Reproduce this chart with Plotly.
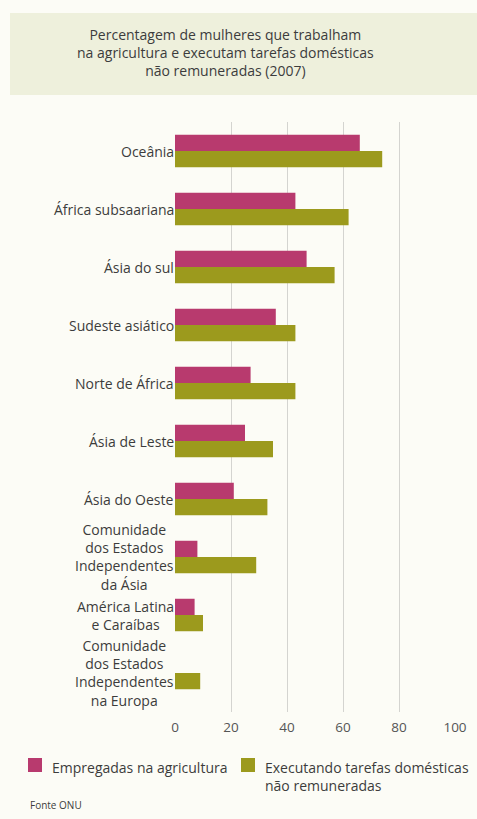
import plotly.graph_objects as go

categories = [
    "Oceânia",
    "África subsaariana",
    "Ásia do sul",
    "Sudeste asiático",
    "Norte de África",
    "Ásia de Leste",
    "Ásia do Oeste",
    "Comunidade<br>dos Estados<br>Independentes<br>da Ásia",
    "América Latina<br>e Caraíbas",
    "Comunidade<br>dos Estados<br>Independentes<br>na Europa",
]
agricultura = [66, 43, 47, 36, 27, 25, 21, 8, 7, 0]
domesticas = [74, 62, 57, 43, 43, 35, 33, 29, 10, 9]
x_ticks = [0, 20, 40, 60, 80, 100]

series_names = ["Empregadas na agricultura",
                "Executando tarefas domésticas<br>não remuneradas"]
title_text = ("Percentagem de mulheres que trabalham<br>"
              "na agricultura e executam tarefas domésticas<br>"
              "não remuneradas (2007)")

FONT = "Open Sans"
TXT = "#3c3c3c"
MAG = "#b83a6e"
OLV = "#9c9a1d"
colors = [MAG, OLV]

fig = go.Figure()
fig.add_trace(go.Bar(y=categories, x=agricultura, orientation="h",
                     name=series_names[0], marker=dict(color=MAG, line=dict(width=0))))
fig.add_trace(go.Bar(y=categories, x=domesticas, orientation="h",
                     name=series_names[1], marker=dict(color=OLV, line=dict(width=0))))

W, H = 477, 819
L, R, T, B = 175, 22, 122, 107
PW, PH = W - L - R, H - T - B


def px_x(p):
    return (p - L) / PW


def px_y(p):
    return 1 - (p - T) / PH


# category labels: block right-aligned against the axis, lines centred
for c in categories:
    fig.add_annotation(x=0, xref="paper", y=c, yref="y", text=c, showarrow=False,
                       xanchor="right", yanchor="middle", align="center", xshift=1,
                       font=dict(family=FONT, size=14, color=TXT))

# title box
fig.add_shape(type="rect", xref="paper", yref="paper",
              x0=px_x(10), x1=px_x(477), y0=px_y(95), y1=px_y(13),
              fillcolor="#eef0dc", line=dict(width=0), layer="below")
fig.add_annotation(x=px_x(225), xref="paper", y=px_y(53), yref="paper",
                   text=title_text, showarrow=False, xanchor="center", yanchor="middle",
                   align="center", font=dict(family=FONT, size=14, color=TXT))

# legend (drawn manually so it stays on a single row as in the reference)
legend_sw_x = [28, 241]
for name, col, sx in zip(series_names, colors, legend_sw_x):
    fig.add_shape(type="rect", xref="paper", yref="paper",
                  x0=px_x(sx), x1=px_x(sx + 14), y0=px_y(772), y1=px_y(758),
                  fillcolor=col, line=dict(width=0))
    fig.add_annotation(x=px_x(sx + 22), xref="paper", y=px_y(756), yref="paper",
                       text=name, showarrow=False, xanchor="left", yanchor="top",
                       align="left", font=dict(family=FONT, size=14, color=TXT))

fig.add_annotation(x=px_x(28), xref="paper", y=px_y(805), yref="paper",
                   text="Fonte ONU", showarrow=False, xanchor="left", yanchor="middle",
                   font=dict(family=FONT, size=10, color=TXT))

fig.update_layout(
    width=W, height=H,
    margin=dict(l=L, r=R, t=T, b=B, autoexpand=False),
    paper_bgcolor="#fcfcf6", plot_bgcolor="#fcfcf6",
    barmode="group", bargap=0.44, bargroupgap=0,
    font=dict(family=FONT, color=TXT),
    showlegend=False,
    xaxis=dict(range=[0, 100], tickvals=x_ticks, showgrid=True, gridcolor="#d4d4d0",
               gridwidth=1, zeroline=False, showline=False, ticks="",
               ticklabelstandoff=5,
               tickfont=dict(family=FONT, size=13.5, color="#555"), fixedrange=True),
    yaxis=dict(categoryorder="array", categoryarray=categories, autorange="reversed",
               showticklabels=False, showgrid=False, zeroline=False, showline=False,
               ticks="", fixedrange=True),
)

fig.write_html("out.html")
